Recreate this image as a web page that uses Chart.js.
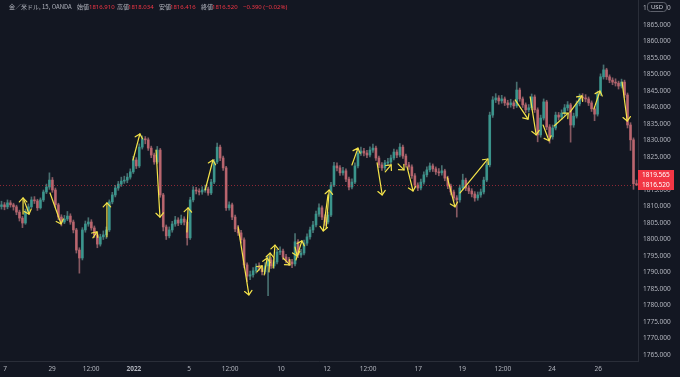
<!DOCTYPE html>
<html><head><meta charset="utf-8">
<script src="https://cdn.jsdelivr.net/npm/chart.js@4.4.1/dist/chart.umd.min.js"></script>
<style>html,body{margin:0;padding:0;background:#131722;overflow:hidden}#wrap{width:680px;height:377px;position:relative}</style>
</head><body><div id="wrap"><canvas id="c" width="680" height="377"></canvas></div>
<script>
// ---- data ----
const firstOpen = 1810.0;
const closes = [
1810.5,1809.9,1811.1,1810.5,1809.9,1808.3,1806.5,1805.0,1808.6,1809.9,
1812.0,1811.7,1809.6,1812.0,1814.4,1815.9,1818.0,1815.0,1810.5,1806.8,
1805.3,1806.2,1807.1,1805.3,1802.9,1796.8,1794.4,1802.9,1804.7,1805.3,
1803.5,1801.4,1798.6,1800.8,1801.4,1802.9,1811.4,1813.5,1815.6,1816.8,
1817.7,1818.0,1818.9,1820.5,1824.1,1822.3,1828.0,1830.5,1830.2,1827.7,
1825.6,1823.5,1827.1,1813.5,1803.8,1801.1,1802.9,1804.7,1805.9,1805.0,
1806.2,1805.3,1800.5,1812.0,1815.0,1814.7,1814.4,1815.0,1815.3,1814.1,
1817.4,1823.5,1828.0,1824.7,1821.7,1809.6,1810.5,1806.8,1803.2,1802.0,
1799.9,1792.3,1788.9,1789.3,1790.5,1791.7,1791.4,1790.2,1792.0,1793.8,
1792.0,1793.2,1796.2,1796.5,1794.7,1793.8,1793.2,1792.6,1799.3,1795.3,
1795.9,1798.9,1800.8,1802.9,1804.4,1807.7,1809.6,1806.8,1805.3,1807.4,
1816.5,1822.3,1821.7,1820.2,1820.8,1818.3,1815.9,1817.4,1822.3,1826.2,
1826.8,1826.2,1825.6,1827.1,1827.7,1824.7,1822.6,1821.7,1823.2,1823.5,
1824.7,1826.5,1825.6,1828.0,1825.3,1822.6,1822.0,1819.3,1816.5,1815.6,
1817.4,1819.6,1821.1,1822.3,1821.4,1820.5,1820.2,1820.8,1818.6,1816.2,
1814.4,1812.6,1812.0,1815.6,1818.0,1815.6,1814.7,1813.8,1812.6,1813.5,
1814.4,1818.0,1822.6,1837.7,1842.3,1842.9,1842.0,1842.6,1841.4,1840.8,
1841.4,1840.5,1845.3,1842.6,1840.8,1839.3,1839.9,1843.2,1839.3,1831.7,
1836.8,1841.7,1834.1,1831.1,1833.8,1837.7,1837.1,1838.3,1839.9,1840.8,
1834.7,1837.4,1841.1,1843.2,1842.9,1842.6,1841.4,1839.6,1838.0,1844.1,
1849.3,1851.4,1849.3,1848.3,1847.7,1847.4,1846.5,1847.7,1843.8,1834.7,
1830.2,1816.91,1816.52];
const highs = [
1811.6,1811.2,1812.0,1811.8,1811.0,1810.4,1808.9,1807.0,1809.2,1810.8,
1812.9,1813.0,1812.2,1812.6,1815.0,1816.8,1820.2,1818.8,1815.6,1811.0,
1807.5,1807.3,1808.5,1807.8,1805.9,1803.4,1797.5,1803.6,1805.6,1806.6,
1806.0,1804.1,1802.0,1801.6,1802.6,1803.8,1812.0,1814.3,1816.4,1817.6,
1818.9,1819.2,1820.0,1821.4,1825.2,1824.8,1829.0,1831.4,1831.2,1830.8,
1828.3,1826.2,1828.2,1827.6,1814.0,1804.4,1803.8,1805.5,1807.0,1806.6,
1807.4,1806.9,1805.9,1812.8,1816.0,1815.8,1815.4,1816.0,1816.5,1815.9,
1818.2,1824.3,1829.2,1828.6,1825.3,1822.2,1811.4,1811.0,1807.4,1804.3,
1802.8,1800.5,1792.9,1790.4,1791.5,1792.6,1792.9,1792.0,1793.0,1795.0,
1794.5,1794.3,1797.0,1797.8,1797.1,1795.5,1794.6,1794.0,1801.8,1800.0,
1797.0,1799.8,1801.7,1803.8,1805.5,1808.6,1810.8,1810.2,1807.5,1808.3,
1817.3,1823.4,1823.2,1822.4,1821.9,1821.4,1818.9,1818.4,1823.2,1827.1,
1828.0,1827.6,1827.0,1828.1,1828.9,1828.3,1825.3,1823.3,1824.0,1824.6,
1825.6,1827.4,1827.2,1829.1,1828.6,1825.9,1823.4,1822.6,1820.0,1817.2,
1818.3,1820.5,1822.0,1823.2,1822.9,1822.0,1821.5,1822.4,1821.3,1819.2,
1816.8,1815.0,1813.3,1816.5,1819.8,1818.6,1816.3,1815.4,1814.5,1814.4,
1815.3,1818.9,1823.5,1838.6,1843.3,1844.2,1843.6,1843.7,1843.2,1842.2,
1842.5,1842.0,1847.7,1845.9,1843.2,1841.4,1840.9,1844.1,1843.8,1839.9,
1837.7,1842.6,1842.2,1834.8,1834.7,1838.6,1838.5,1839.3,1840.9,1841.8,
1841.3,1838.3,1842.0,1844.1,1844.2,1843.9,1843.2,1842.0,1840.2,1845.0,
1850.2,1852.9,1851.9,1849.9,1849.0,1848.7,1848.0,1848.6,1848.3,1844.4,
1835.4,1830.8,1818.034];
const lows = [
1809.2,1809.0,1809.3,1809.8,1808.9,1807.5,1805.6,1803.6,1804.6,1808.0,
1809.5,1810.9,1808.8,1809.2,1811.5,1813.9,1815.2,1814.3,1809.7,1806.0,
1804.1,1804.8,1805.7,1804.6,1802.0,1795.9,1789.8,1793.8,1802.2,1804.0,
1802.8,1800.6,1797.5,1798.0,1800.0,1800.3,1802.4,1810.8,1812.9,1814.9,
1816.1,1817.0,1817.2,1818.3,1820.0,1821.5,1821.8,1827.4,1829.0,1827.0,
1824.8,1822.8,1823.0,1812.8,1802.6,1800.0,1800.5,1802.2,1804.0,1804.2,
1804.5,1804.4,1798.3,1800.0,1811.4,1813.8,1813.5,1813.7,1814.3,1813.4,
1813.6,1816.9,1823.0,1823.9,1820.9,1808.8,1808.9,1806.0,1802.4,1801.2,
1798.9,1791.4,1787.2,1787.8,1788.6,1789.8,1790.6,1789.3,1789.6,1783.0,
1791.2,1791.3,1792.6,1795.4,1793.9,1792.9,1792.1,1791.5,1792.0,1794.5,
1794.6,1795.3,1798.2,1800.1,1802.1,1803.8,1807.0,1806.0,1804.3,1804.7,
1806.9,1816.0,1820.8,1819.4,1819.5,1817.5,1815.0,1815.3,1816.9,1821.7,
1825.5,1825.3,1824.8,1825.0,1826.4,1824.0,1821.8,1820.9,1821.0,1822.4,
1822.9,1824.1,1824.8,1825.0,1824.6,1821.9,1821.2,1818.5,1815.6,1814.8,
1815.0,1816.8,1819.0,1820.5,1820.6,1819.7,1819.3,1819.5,1817.8,1815.4,
1813.5,1811.7,1806.8,1811.3,1815.0,1814.8,1813.9,1812.9,1811.6,1811.9,
1812.8,1813.8,1817.5,1822.0,1837.0,1841.5,1841.0,1841.3,1840.6,1839.9,
1840.1,1839.6,1840.0,1841.9,1840.0,1838.4,1838.6,1839.3,1838.5,1829.6,
1831.0,1836.2,1833.3,1829.2,1830.4,1833.2,1836.2,1836.4,1837.6,1839.1,
1829.5,1834.0,1836.8,1840.5,1842.0,1841.7,1840.6,1838.8,1836.0,1837.4,
1843.6,1848.6,1848.5,1847.5,1846.9,1846.5,1845.6,1845.9,1843.0,1833.8,
1827.0,1815.2,1816.416];
const xTickIndex  = [1.2, 16.9, 29.9, 44.2, 62.6, 76.3, 93.3, 108.7, 122.4, 139.1, 153.8, 167.4, 183.8, 199.2];
const xTickLabels = ['7','29','12:00','2022','5','12:00','10','12','12:00','17','19','12:00','24','26'];
const yMin = 1763.18, yMax = 1872.58, yStep = 5;
// arrows: start (candle index, price) -> end (candle index, price)
const arrowFromX = [7.2, 7.5, 16.2, 30.5, 35.2, 43.9, 51.6, 61.9, 68.0, 79.0, 85.3, 87.7, 89.3, 90.7, 94.0, 98.0, 98.3, 108.4, 109.0, 117.0, 125.4, 128.1, 132.4, 135.4, 148.8, 153.1, 171.5, 176.5, 180.8, 184.5, 189.8, 197.8, 207.2];
const arrowFromY = [1807.7,1812.0,1814.1,1800.5,1800.8,1824.1,1827.1,1802.3,1815.0,1803.8,1790.2,1789.3,1790.2,1791.4,1794.4,1797.7,1793.8,1803.5,1813.5,1822.6,1823.2,1820.5,1822.9,1822.0,1818.9,1814.1,1842.3,1843.2,1834.7,1834.4,1838.6,1839.6,1847.7];
const arrowToX   = [7.2, 9.2, 19.9, 31.9, 35.2, 46.2, 52.9, 62.3, 70.6, 82.6, 87.0, 88.7, 89.7, 91.3, 96.3, 98.7, 100.3, 109.4, 107.4, 119.0, 127.1, 130.1, 134.4, 137.4, 151.4, 162.4, 175.8, 178.5, 182.8, 189.2, 193.8, 199.8, 208.9];
const arrowToY   = [1812.6,1807.7,1804.7,1802.3,1811.1,1832.0,1806.8,1809.6,1824.1,1783.2,1792.0,1794.4,1795.9,1798.3,1792.3,1795.0,1799.6,1815.0,1802.6,1827.7,1813.5,1822.6,1821.1,1814.7,1809.9,1824.4,1836.5,1831.7,1829.9,1838.3,1843.5,1845.0,1835.9];
const markPrice = 1819.565;
const symbolText = '金／米ドル, 15, OANDA';
const ohlcNames = ['始値','高値','安値','終値'];
const currency = 'USD';

// ---- derived structures ----
const opens = closes.map((c, i) => i === 0 ? firstOpen : closes[i - 1]);
const N = closes.length;
const last = N - 1;
const categories = closes.map((_, i) => i);
const colors = closes.map((c, i) => c >= opens[i] ? 'rgba(60,155,145,0.9)' : 'rgba(196,104,114,0.85)');
const wickColors = closes.map((c, i) => c >= opens[i] ? 'rgba(95,150,146,0.7)' : 'rgba(185,118,126,0.7)');

const BG = '#131722', AXIS_TXT = '#b2b5be', RED = '#f23645';
const FONT = '"Noto Sans", "Noto Sans CJK JP", sans-serif';
const JFONT = '"Noto Sans CJK JP", "Noto Sans", sans-serif';

const overlay = {
  id: 'overlay',
  afterDatasetsDraw(chart) {
    const {ctx, chartArea: a, scales: {x, y}} = chart;
    ctx.save();
    ctx.beginPath(); ctx.rect(a.left, a.top, a.right - a.left, a.bottom - a.top); ctx.clip();
    const ly = y.getPixelForValue(closes[last]);
    ctx.strokeStyle = 'rgba(242,54,69,0.55)'; ctx.lineWidth = 1; ctx.setLineDash([1, 2]);
    ctx.beginPath(); ctx.moveTo(a.left, Math.round(ly) + 0.5); ctx.lineTo(a.right, Math.round(ly) + 0.5); ctx.stroke();
    ctx.setLineDash([]);
    ctx.strokeStyle = '#f5e44a'; ctx.lineWidth = 1.2; ctx.lineCap = 'round'; ctx.lineJoin = 'round';
    for (let i = 0; i < arrowFromX.length; i++) {
      const x0 = x.getPixelForValue(arrowFromX[i]), y0 = y.getPixelForValue(arrowFromY[i]);
      const x1 = x.getPixelForValue(arrowToX[i]), y1 = y.getPixelForValue(arrowToY[i]);
      const ang = Math.atan2(y1 - y0, x1 - x0), L = 5.5, s = 0.75;
      ctx.beginPath(); ctx.moveTo(x0, y0); ctx.lineTo(x1, y1); ctx.stroke();
      ctx.beginPath();
      ctx.moveTo(x1 - L * Math.cos(ang - s), y1 - L * Math.sin(ang - s));
      ctx.lineTo(x1, y1);
      ctx.lineTo(x1 - L * Math.cos(ang + s), y1 - L * Math.sin(ang + s));
      ctx.stroke();
    }
    ctx.restore();
  },
  afterDraw(chart) {
    const {ctx, chartArea: a, scales: {y}} = chart;
    ctx.save();
    const box = (price, txt) => {
      const py = y.getPixelForValue(price);
      ctx.fillStyle = RED;
      ctx.fillRect(a.right, Math.round(py) - 5, 36, 10);
      ctx.fillStyle = '#ffffff'; ctx.font = '6.5px ' + FONT; ctx.textAlign = 'left'; ctx.textBaseline = 'middle';
      ctx.fillText(txt, a.right + 4, py + 0.5);
    };
    box(markPrice, markPrice.toFixed(3));
    box(closes[last], closes[last].toFixed(3));
    ctx.fillStyle = BG; ctx.strokeStyle = '#5d606b'; ctx.lineWidth = 1;
    ctx.beginPath(); ctx.roundRect(647.5, 2.5, 19, 9, 3); ctx.fill(); ctx.stroke();
    ctx.fillStyle = '#d1d4dc'; ctx.font = '6px ' + FONT; ctx.textAlign = 'center'; ctx.textBaseline = 'middle';
    ctx.fillText(currency, 657, 7.5);
    const o = opens[last], h = highs[last], l = lows[last], c = closes[last];
    const chg = c - o, pct = chg / o * 100;
    const segs = [
      [symbolText, AXIS_TXT, 9, JFONT], [ohlcNames[0], AXIS_TXT, 77, JFONT], [o.toFixed(3), RED, 89, FONT],
      [ohlcNames[1], AXIS_TXT, 117, JFONT], [h.toFixed(3), RED, 128, FONT],
      [ohlcNames[2], AXIS_TXT, 159, JFONT], [l.toFixed(3), RED, 170, FONT],
      [ohlcNames[3], AXIS_TXT, 201, JFONT], [c.toFixed(3), RED, 212, FONT],
      [(chg < 0 ? '−' : '+') + Math.abs(chg).toFixed(3) + ' (' + (pct < 0 ? '−' : '+') + Math.abs(pct).toFixed(2) + '%)', RED, 243, FONT]
    ];
    ctx.textAlign = 'left'; ctx.textBaseline = 'middle';
    for (const [t, col, px, f] of segs) { ctx.font = '6px ' + f; ctx.fillStyle = col; ctx.fillText(t, px, 7); }
    ctx.restore();
  }
};

new Chart(document.getElementById('c'), {
  type: 'bar',
  data: {
    labels: categories,
    datasets: [
      { label: 'body', data: closes.map((c, i) => [opens[i], c]), backgroundColor: colors,
        barThickness: 2, minBarLength: 1, grouped: false, borderWidth: 0 },
      { label: 'wick', data: lows.map((l, i) => [l, highs[i]]), backgroundColor: wickColors,
        barThickness: 1, grouped: false, borderWidth: 0 }
    ]
  },
  options: {
    responsive: false, animation: false,
    layout: { padding: 0 },
    plugins: { legend: { display: false }, tooltip: { enabled: false } },
    scales: {
      x: {
        type: 'category', offset: true,
        grid: { display: true, drawOnChartArea: false, drawTicks: false },
        border: { display: true, color: '#2a2e39' },
        afterBuildTicks(s) { s.ticks = xTickIndex.map(v => ({ value: v })); },
        afterFit(s) { s.height = 16; s.paddingLeft = 0; s.paddingRight = 0; },
        ticks: {
          autoSkip: false, maxRotation: 0, padding: 4, color: AXIS_TXT,
          font: ctx => ({ family: FONT, size: 6.5, weight: (ctx.tick && ctx.tick.label === '2022') ? 'bold' : 'normal' }),
          callback: (v, i) => xTickLabels[i]
        }
      },
      y: {
        type: 'linear', position: 'right', min: yMin, max: yMax,
        grid: { display: true, drawOnChartArea: false, drawTicks: false },
        border: { display: true, color: '#2a2e39' },
        afterFit(s) { s.width = 42; s.paddingTop = 0; s.paddingBottom = 0; },
        ticks: { stepSize: yStep, includeBounds: false, maxTicksLimit: 40, padding: 5, color: AXIS_TXT,
          font: { family: FONT, size: 6.5 }, callback: v => Number(v).toFixed(3) }
      }
    }
  },
  plugins: [overlay]
});
</script></body></html>
